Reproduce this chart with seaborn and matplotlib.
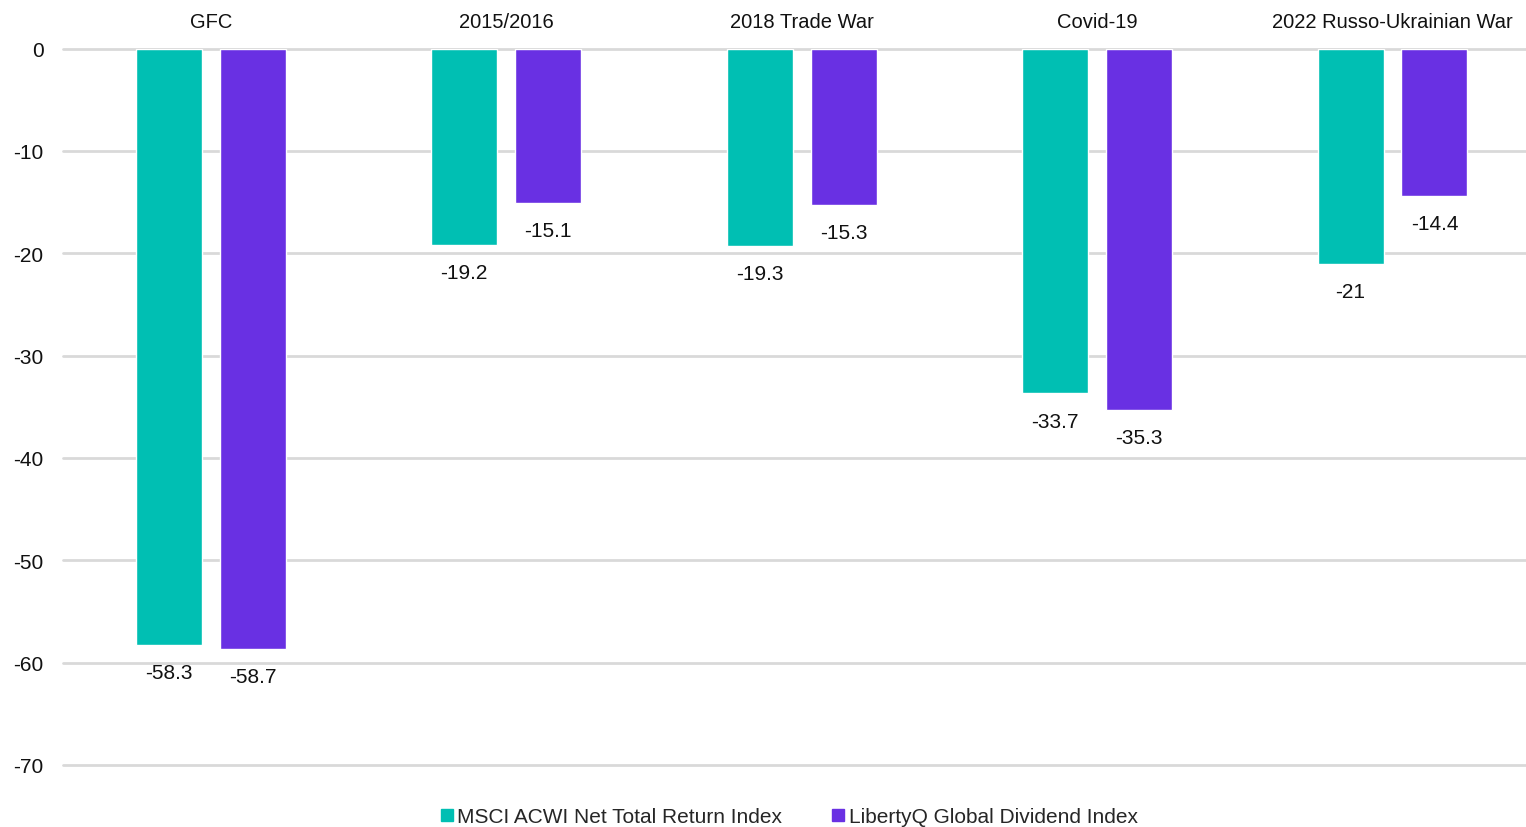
import numpy as np
import pandas as pd
import matplotlib.pyplot as plt
import seaborn as sns
from matplotlib.lines import Line2D

# -------------------------------------------------------
# Data
# -------------------------------------------------------

events = ["GFC", "2015/2016", "2018 Trade War", "Covid-19", "2022 Russo-Ukrainian War"]
msci = [-58.3, -19.2, -19.3, -33.7, -21]
libertyq = [-58.7, -15.1, -15.3, -35.3, -14.4]
series_names = ["MSCI ACWI Net Total Return Index", "LibertyQ Global Dividend Index"]
y_ticks = [0, -10, -20, -30, -40, -50, -60, -70]

colors = ["#00BFB3", "#6930E3"]

df = pd.DataFrame({
    "Event": events * 2,
    "Series": [series_names[0]] * len(events) + [series_names[1]] * len(events),
    "Value": msci + libertyq,
})

# -------------------------------------------------------
# Plot
# -------------------------------------------------------

sns.set_style("white")
plt.rcParams["font.family"] = ["Liberation Sans Narrow", "Liberation Sans", "DejaVu Sans"]

fig = plt.figure(figsize=(15.26, 8.28), dpi=100)
# axes run a bit past the right edge, like the original
ax = fig.add_axes([0.0413, 0.075, 0.968, 0.865])

sns.barplot(
    data=df,
    x="Event",
    y="Value",
    hue="Series",
    palette=colors,
    width=0.568,
    gap=0.213,
    ax=ax,
    legend=False,
    saturation=1,
)

for container in ax.containers:
    ax.bar_label(container, fmt="%g", padding=13, fontsize=15, color="#111111")

ax.set_ylim(-70, 0)
ax.set_xlim(-0.5, len(events) - 0.5)
ax.set_yticks(y_ticks)
ax.set_yticklabels([str(t) for t in y_ticks], fontsize=15, color="#111111")
ax.xaxis.tick_top()
ax.set_xticks(range(len(events)))
ax.set_xticklabels(events, fontsize=14.5, color="#111111")
ax.tick_params(axis="both", length=0)
ax.tick_params(axis="x", pad=12.5)
ax.tick_params(axis="y", pad=14)
ax.set_xlabel("")
ax.set_ylabel("")

ax.yaxis.grid(True, color="#D9D9D9", linewidth=2)
ax.set_axisbelow(True)
# keep the 0 and -70 gridlines at full width
for line in ax.get_ygridlines():
    line.set_clip_on(False)
for s in ax.spines.values():
    s.set_visible(False)

handles = [
    Line2D([], [], marker="s", linestyle="", markersize=9, color=c)
    for c in colors
]
fig.legend(
    handles,
    series_names,
    loc="lower center",
    bbox_to_anchor=(0.517, -0.022),
    ncol=2,
    frameon=False,
    fontsize=15,
    handlelength=0.6,
    handletextpad=0.2,
    columnspacing=2.4,
)

plt.savefig("out.png", dpi=100)
plt.close()
